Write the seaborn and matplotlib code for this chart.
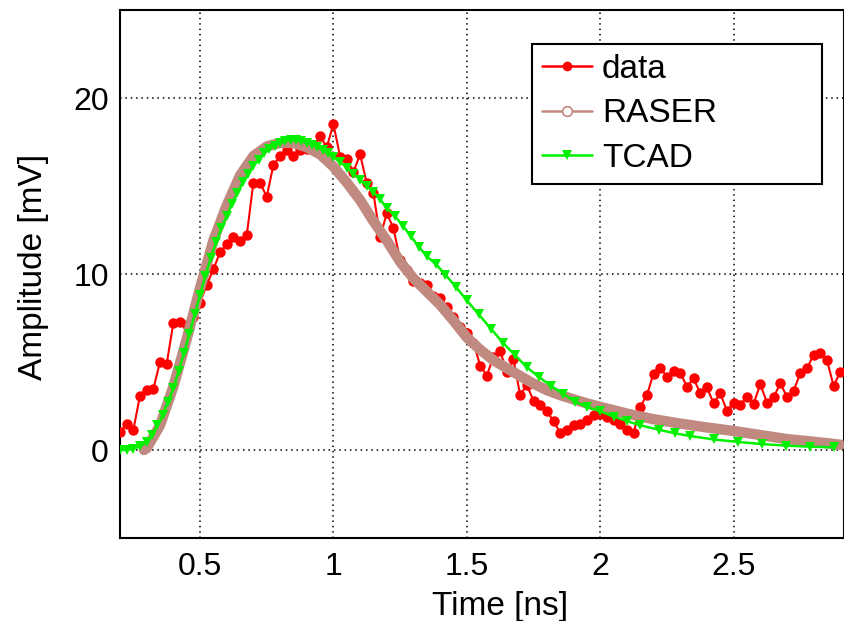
import numpy as np
import pandas as pd
import matplotlib
matplotlib.use("Agg")
import matplotlib.pyplot as plt
from matplotlib.lines import Line2D
from matplotlib.ticker import MultipleLocator
import seaborn as sns

# ---------------- data ----------------
data_t = [0.200, 0.225, 0.250, 0.275, 0.300, 0.325, 0.350, 0.375, 0.400, 0.425,
          0.450, 0.475, 0.500, 0.525, 0.550, 0.575, 0.600, 0.625, 0.650, 0.675,
          0.700, 0.725, 0.750, 0.775, 0.800, 0.825, 0.850, 0.875, 0.900, 0.925,
          0.950, 0.975, 1.000, 1.025, 1.050, 1.075, 1.100, 1.125, 1.150, 1.175,
          1.200, 1.225, 1.250, 1.275, 1.300, 1.325, 1.350, 1.375, 1.400, 1.425,
          1.450, 1.475, 1.500, 1.525, 1.550, 1.575, 1.600, 1.625, 1.650, 1.675,
          1.700, 1.725, 1.750, 1.775, 1.800, 1.825, 1.850, 1.875, 1.900, 1.925,
          1.950, 1.975, 2.000, 2.025, 2.050, 2.075, 2.100, 2.125, 2.150, 2.175,
          2.200, 2.225, 2.250, 2.275, 2.300, 2.325, 2.350, 2.375, 2.400, 2.425,
          2.450, 2.475, 2.500, 2.525, 2.550, 2.575, 2.600, 2.625, 2.650, 2.675,
          2.700, 2.725, 2.750, 2.775, 2.800, 2.825, 2.850, 2.875, 2.900]
data_v = [1.04, 1.48, 1.14, 3.09, 3.41, 3.47, 5.00, 4.89, 7.23, 7.29,
          7.10, 7.57, 8.37, 9.38, 10.27, 11.23, 11.70, 12.08, 11.86, 12.20,
          15.19, 15.19, 14.39, 16.19, 16.70, 17.05, 16.70, 17.05, 17.08, 17.20,
          17.84, 17.20, 18.52, 16.67, 16.52, 15.80, 16.80, 15.15, 14.60, 12.10,
          13.45, 12.60, 10.80, 10.20, 9.60, 9.47, 9.37, 8.75, 8.62, 8.14,
          7.57, 7.00, 6.67, 6.10, 4.80, 4.23, 5.30, 5.62, 4.45, 5.15,
          3.12, 3.70, 2.80, 2.53, 2.22, 1.64, 0.98, 1.15, 1.42, 1.50,
          1.72, 2.00, 2.05, 1.85, 1.72, 1.47, 1.14, 0.95, 2.46, 3.12,
          4.34, 4.67, 4.17, 4.47, 4.39, 3.60, 4.07, 3.22, 3.56, 2.65,
          3.22, 2.23, 2.69, 2.56, 3.03, 2.61, 3.75, 2.69, 2.99, 3.79,
          3.03, 3.37, 4.36, 4.64, 5.40, 5.49, 5.11, 3.64, 4.45]

raser_t = [0.29, 0.30, 0.35, 0.40, 0.45, 0.50, 0.55, 0.60, 0.65, 0.70,
           0.75, 0.80, 0.85, 0.90, 0.95, 1.00, 1.05, 1.10, 1.15, 1.20,
           1.25, 1.30, 1.35, 1.40, 1.45, 1.50, 1.55, 1.60, 1.65, 1.70,
           1.75, 1.80, 1.85, 1.90, 1.95, 2.00, 2.10, 2.20, 2.30, 2.40,
           2.50, 2.60, 2.70, 2.80, 2.90]
raser_v = [0.0, 0.1, 1.4, 3.6, 6.3, 9.2, 11.9, 13.9, 15.6, 16.7,
           17.25, 17.45, 17.45, 17.2, 16.8, 16.1, 15.2, 14.2, 13.0, 11.9,
           10.7, 9.75, 9.0, 8.25, 7.35, 6.4, 5.7, 5.1, 4.65, 4.2,
           3.77, 3.4, 3.12, 2.88, 2.65, 2.45, 2.07, 1.75, 1.5, 1.28,
           1.08, 0.85, 0.62, 0.47, 0.30]

tcad_t = [0.200, 0.225, 0.250, 0.275, 0.300, 0.320, 0.340, 0.360, 0.380, 0.400,
          0.420, 0.440, 0.460, 0.480, 0.500, 0.520, 0.540, 0.560, 0.580, 0.600,
          0.620, 0.640, 0.660, 0.680, 0.700, 0.720, 0.740, 0.760, 0.780, 0.800,
          0.820, 0.840, 0.860, 0.880, 0.900, 0.920, 0.940, 0.960, 0.980, 1.000,
          1.025, 1.050, 1.075, 1.100, 1.125, 1.150, 1.175, 1.200, 1.230, 1.260,
          1.290, 1.320, 1.350, 1.385, 1.420, 1.460, 1.500, 1.545, 1.590, 1.635,
          1.680, 1.725, 1.770, 1.815, 1.860, 1.905, 1.950, 2.000, 2.050, 2.100,
          2.150, 2.220, 2.280, 2.335, 2.425, 2.515, 2.605, 2.695, 2.785, 2.875]
tcad_v = [0.0, 0.02, 0.08, 0.2, 0.45, 0.85, 1.4, 2.0, 2.75, 3.5,
          4.5, 5.5, 6.6, 7.7, 8.8, 9.9, 10.9, 11.8, 12.6, 13.3,
          14.0, 14.6, 15.2, 15.7, 16.15, 16.5, 16.85, 17.1, 17.3, 17.45,
          17.55, 17.6, 17.6, 17.55, 17.45, 17.35, 17.2, 17.05, 16.85, 16.65,
          16.35, 16.05, 15.7, 15.35, 15.0, 14.65, 14.25, 13.75, 13.3, 12.75,
          12.15, 11.55, 11.0, 10.55, 9.95, 9.25, 8.5, 7.7, 6.9, 6.1,
          5.4, 4.7, 4.15, 3.65, 3.2, 2.75, 2.45, 2.2, 1.9, 1.65,
          1.4, 1.15, 0.95, 0.8, 0.6, 0.46, 0.34, 0.25, 0.19, 0.15]

series_labels = ["data", "RASER", "TCAD"]
x_ticks = [0.5, 1.0, 1.5, 2.0, 2.5]
x_tick_labels = ["0.5", "1", "1.5", "2", "2.5"]
y_ticks = [0, 10, 20]
y_tick_labels = ["0", "10", "20"]

df_data = pd.DataFrame({"t": data_t, "v": data_v})
df_raser = pd.DataFrame({"t": raser_t, "v": raser_v})
df_tcad = pd.DataFrame({"t": tcad_t, "v": tcad_v})

# ---------------- style ----------------
sns.set_style("white")
plt.rcParams["font.family"] = ["Liberation Sans", "DejaVu Sans"]
plt.rcParams["text.color"] = "black"
plt.rcParams["axes.labelcolor"] = "black"

RED = "#ff0000"
BROWN = "#c08a80"
GREEN = "#00f000"

W, H = 844, 621
fig = plt.figure(figsize=(W / 100, H / 100), dpi=100)
ax = fig.add_axes([120 / W, 1 - 538 / H, 723.5 / W, 528 / H])

sns.lineplot(data=df_data, x="t", y="v", ax=ax, color=RED, linewidth=1.5,
             marker="o", markersize=7.5, markeredgecolor=RED, markeredgewidth=0,
             estimator=None, sort=False, zorder=3)
sns.lineplot(data=df_raser, x="t", y="v", ax=ax, color=BROWN, linewidth=7.5,
             solid_capstyle="round", estimator=None, sort=False, zorder=4)
sns.lineplot(data=df_tcad, x="t", y="v", ax=ax, color=GREEN, linewidth=1.8,
             marker="v", markersize=6.5, markeredgecolor=GREEN, markeredgewidth=0,
             estimator=None, sort=False, zorder=5)

ax.set_xlim(0.2, 2.912)
ax.set_ylim(-5, 25)
ax.set_xticks(x_ticks)
ax.set_xticklabels(x_tick_labels)
ax.set_yticks(y_ticks)
ax.set_yticklabels(y_tick_labels)
ax.xaxis.set_minor_locator(MultipleLocator(0.1))
ax.yaxis.set_minor_locator(MultipleLocator(2))
ax.tick_params(axis="both", which="major", direction="in", length=20, width=1.4,
               labelsize=23, color="black", labelcolor="black",
               top=False, right=False)
ax.tick_params(axis="both", which="minor", direction="in", length=10, width=1.2,
               color="black", top=False, right=False)
ax.tick_params(axis="x", which="major", pad=10)
ax.tick_params(axis="y", which="major", pad=8)

ax.grid(True, which="major", color="black", linestyle=(0, (1, 2.5)), linewidth=1.1)
ax.set_axisbelow(True)
for s in ax.spines.values():
    s.set_color("black")
    s.set_linewidth(1.5)
    s.set_visible(True)

ax.set_xlabel("Time [ns]", fontsize=24, color="black")
ax.set_ylabel("Amplitude [mV]", fontsize=24, color="black")
ax.xaxis.set_label_coords((500 - 120) / 723.5, -0.1)
ax.yaxis.set_label_coords(-0.098, (538 - 266.5) / 528)

handles = [
    Line2D([], [], color=RED, linewidth=1.8, marker="o", markersize=7, markeredgewidth=0),
    Line2D([], [], color=BROWN, linewidth=1.8, marker="o", markersize=7,
           markerfacecolor="white", markeredgecolor=BROWN, markeredgewidth=1.2),
    Line2D([], [], color=GREEN, linewidth=1.8, marker="v", markersize=6.5, markeredgewidth=0),
]
x0 = (532 - 120) / 723.5
w = (822 - 532) / 723.5
y1 = 1 - (44 - 10) / 528
h = (184 - 44) / 528
leg = ax.legend(handles, series_labels, loc="upper left", mode="expand",
                bbox_to_anchor=(x0, y1 - h, w, h),
                fontsize=24, frameon=True, fancybox=False, framealpha=1,
                edgecolor="black", handlelength=1.5, handletextpad=0.3,
                labelspacing=0.4, borderpad=0.3, borderaxespad=0,
                labelcolor="black")
leg.get_frame().set_linewidth(1.5)
leg.set_zorder(10)

fig.savefig("out.png", dpi=100)
